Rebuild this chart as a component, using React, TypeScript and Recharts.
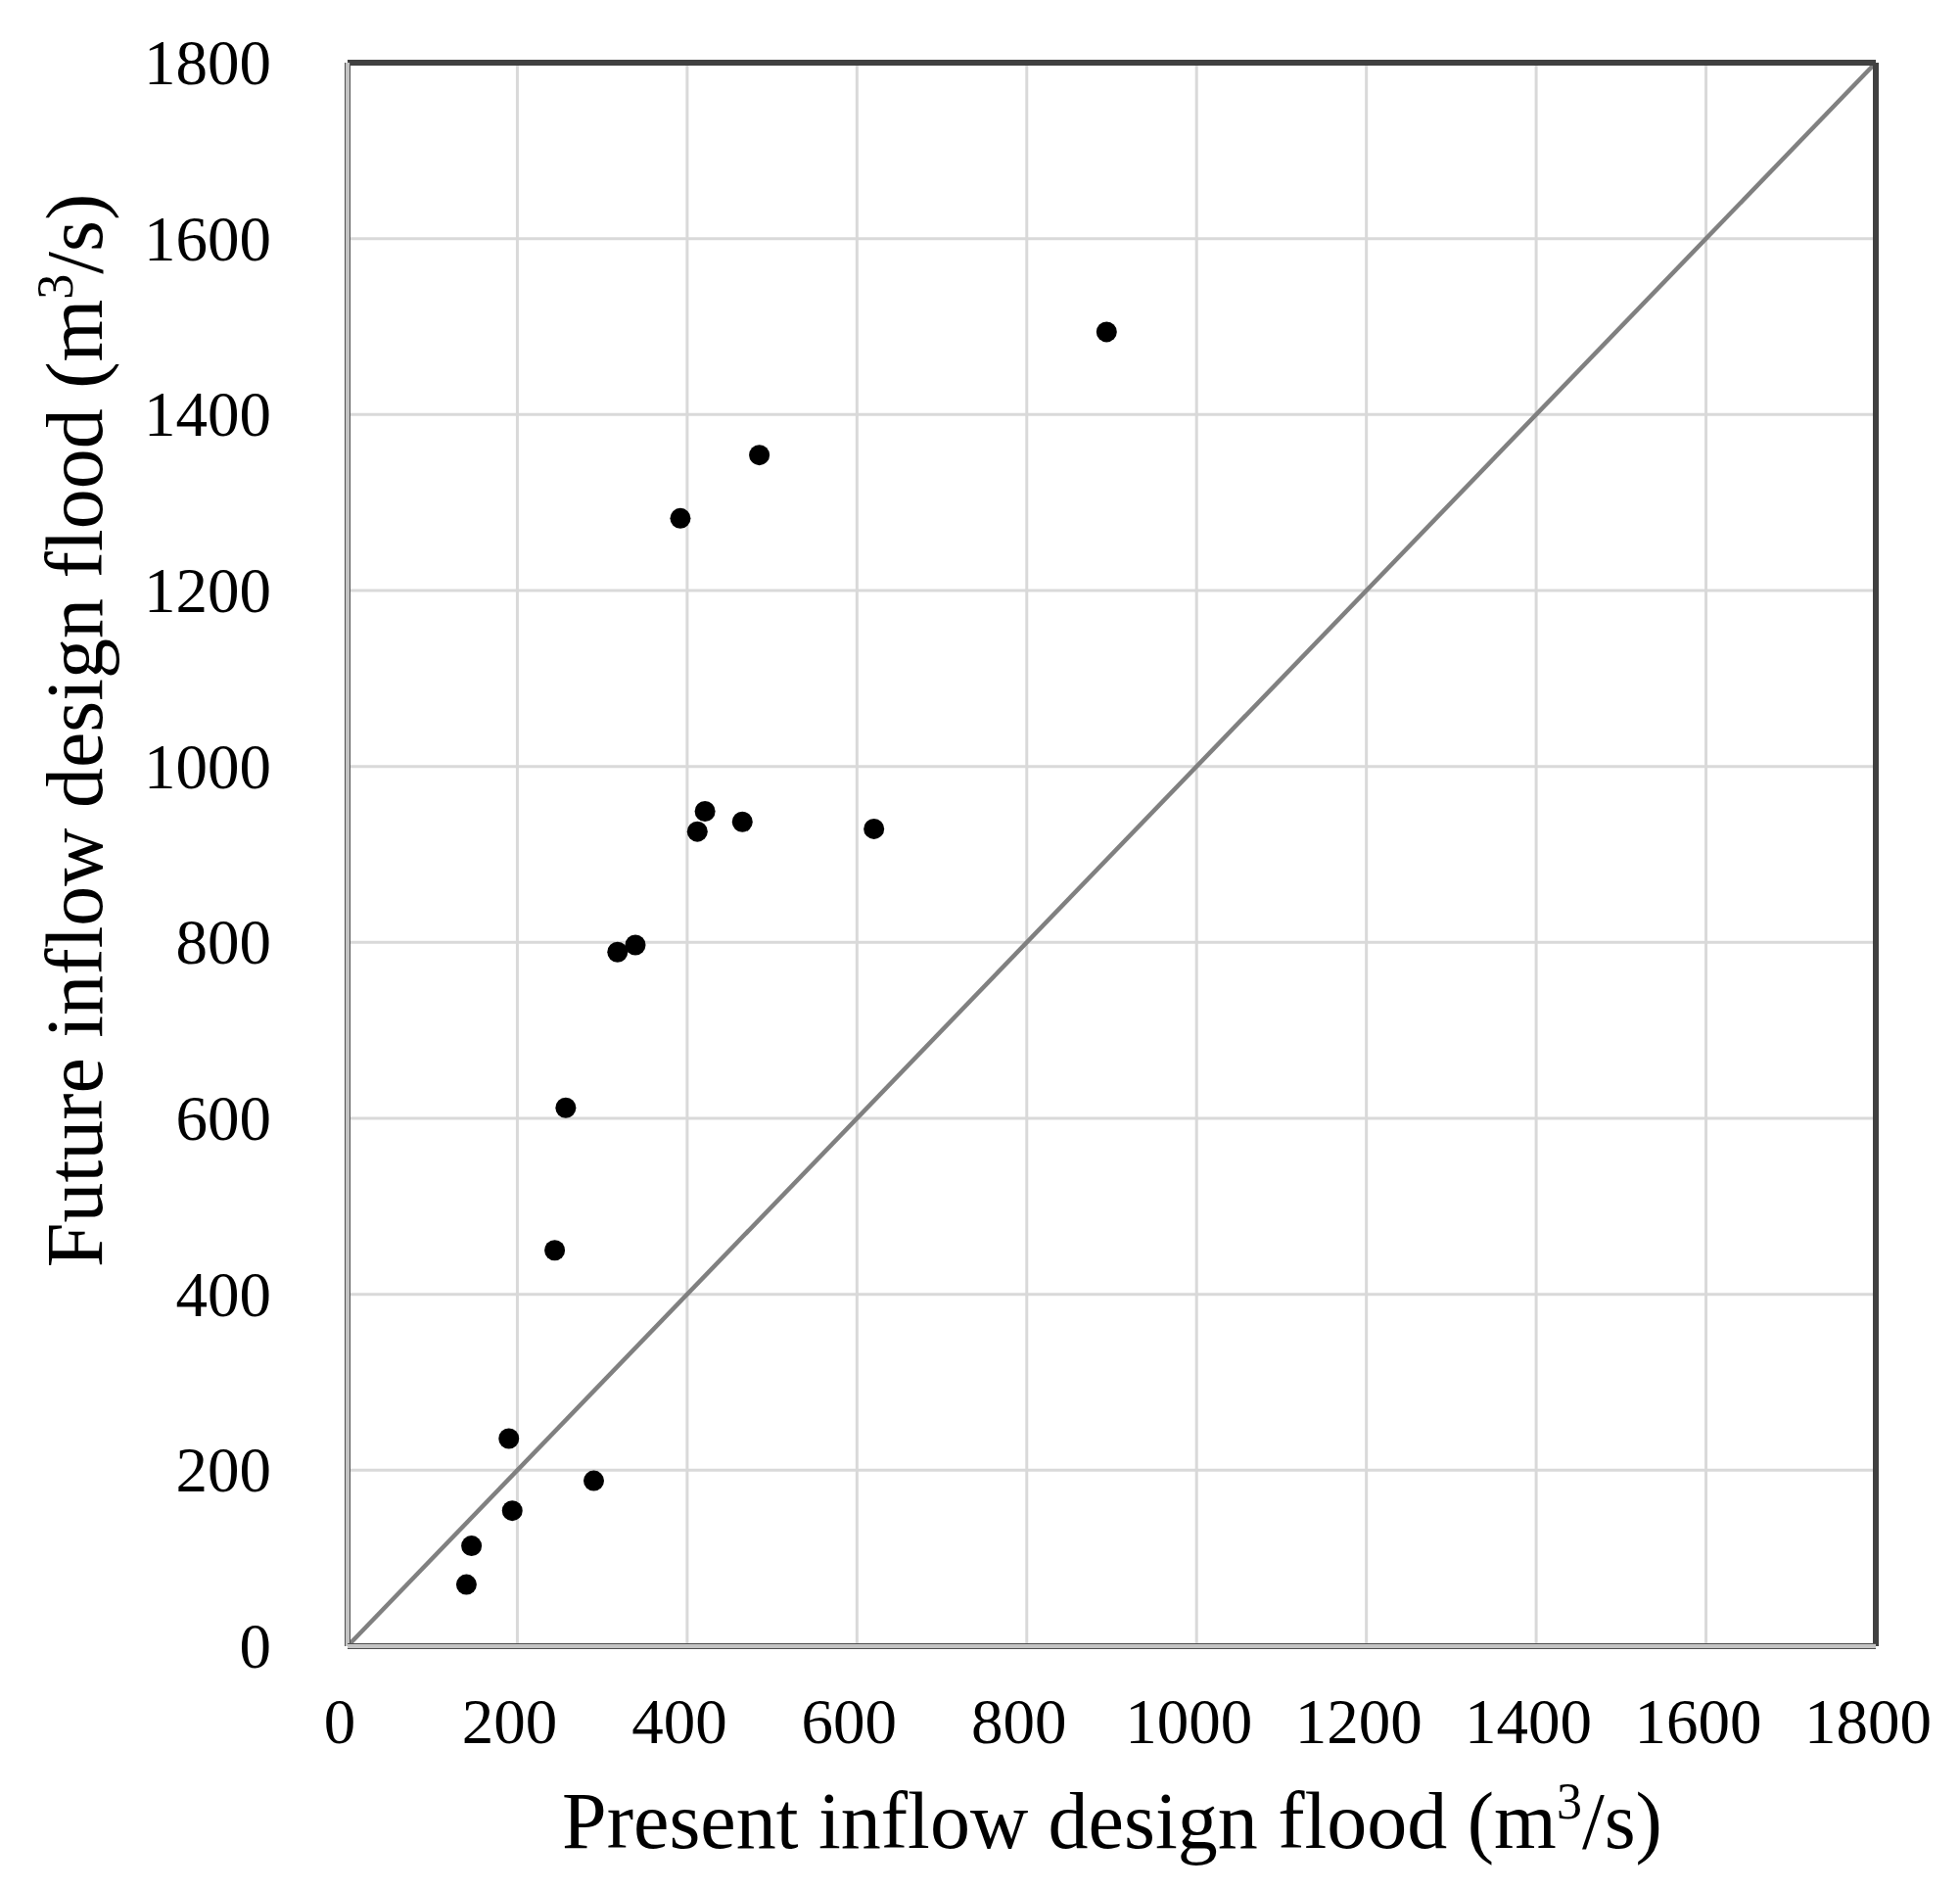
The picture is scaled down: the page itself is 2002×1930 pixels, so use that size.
import React from "react";
import { ScatterChart, Scatter, XAxis, YAxis, CartesianGrid, ReferenceLine, Label } from "recharts";

const presentFlood = [140, 146, 194, 190, 290, 244, 257, 318, 339, 392, 485, 412, 421, 465, 620, 894];
const futureFlood = [70, 114, 154, 236, 188, 450, 612, 789, 797, 1282, 1354, 926, 949, 937, 929, 1494];
const axisTicks = [0, 200, 400, 600, 800, 1000, 1200, 1400, 1600, 1800];
const diagonalLine = [0, 1800];

const points = presentFlood.map((x, i) => ({ x, y: futureFlood[i] }));

const FONT = "'Liberation Serif', 'Times New Roman', serif";

const XTick = (props: any) => {
  const { x, payload } = props;
  return (
    <text x={x - 8} y={1772} textAnchor="middle" fontFamily={FONT} fontSize={65} fill="#000">
      {payload.value}
    </text>
  );
};

const YTick = (props: any) => {
  const { y, payload } = props;
  return (
    <text x={269} y={y + 22} textAnchor="end" fontFamily={FONT} fontSize={65} fill="#000">
      {payload.value}
    </text>
  );
};

const Dot = (props: any) => <circle cx={props.cx} cy={props.cy} r={10.5} fill="#000" />;

export default function App() {
  return (
    <ScatterChart width={1986} height={1914} margin={{ top: 56, right: 78, bottom: 0, left: 0 }}>
      <CartesianGrid stroke="#d9d9d9" strokeWidth={3} vertical horizontal />
      <XAxis
        type="number"
        dataKey="x"
        domain={[0, 1800]}
        ticks={axisTicks}
        axisLine={false}
        tickLine={false}
        tick={<XTick />}
        height={241}
        interval={0}
      >
        <Label
          content={() => (
            <text x={1128} y={1879} textAnchor="middle" fontFamily={FONT} fontSize={82} fill="#000">
              Present inflow design flood (m
              <tspan dy={-30} fontSize={52}>3</tspan>
              <tspan dy={30}>/s)</tspan>
            </text>
          )}
        />
      </XAxis>
      <YAxis
        type="number"
        dataKey="y"
        domain={[0, 1800]}
        ticks={axisTicks}
        axisLine={false}
        tickLine={false}
        tick={<YTick />}
        width={347}
        interval={0}
      >
        <Label
          content={() => (
            <text
              x={0}
              y={0}
              transform="translate(96, 738) rotate(-90)"
              textAnchor="middle"
              fontFamily={FONT}
              fontSize={82}
              fill="#000"
            >
              Future inflow design flood (m
              <tspan dy={-30} fontSize={52}>3</tspan>
              <tspan dy={30}>/s)</tspan>
            </text>
          )}
        />
      </YAxis>
      <ReferenceLine
        segment={[
          { x: diagonalLine[0], y: diagonalLine[0] },
          { x: diagonalLine[1], y: diagonalLine[1] },
        ]}
        stroke="#808080"
        strokeWidth={4.5}
        ifOverflow="visible"
      />
      <ReferenceLine y={1800} stroke="#404040" strokeWidth={6} ifOverflow="visible" />
      <ReferenceLine x={1800} stroke="#404040" strokeWidth={6} ifOverflow="visible" />
      <ReferenceLine x={0} stroke="#505050" strokeWidth={6} ifOverflow="visible" />
      <ReferenceLine x={0} stroke="#c4c4c4" strokeWidth={4} ifOverflow="visible" />
      <ReferenceLine y={0} stroke="#505050" strokeWidth={6} ifOverflow="visible" />
      <ReferenceLine y={0} stroke="#c4c4c4" strokeWidth={4} ifOverflow="visible" />
      <Scatter data={points} shape={<Dot />} isAnimationActive={false} />
    </ScatterChart>
  );
}
